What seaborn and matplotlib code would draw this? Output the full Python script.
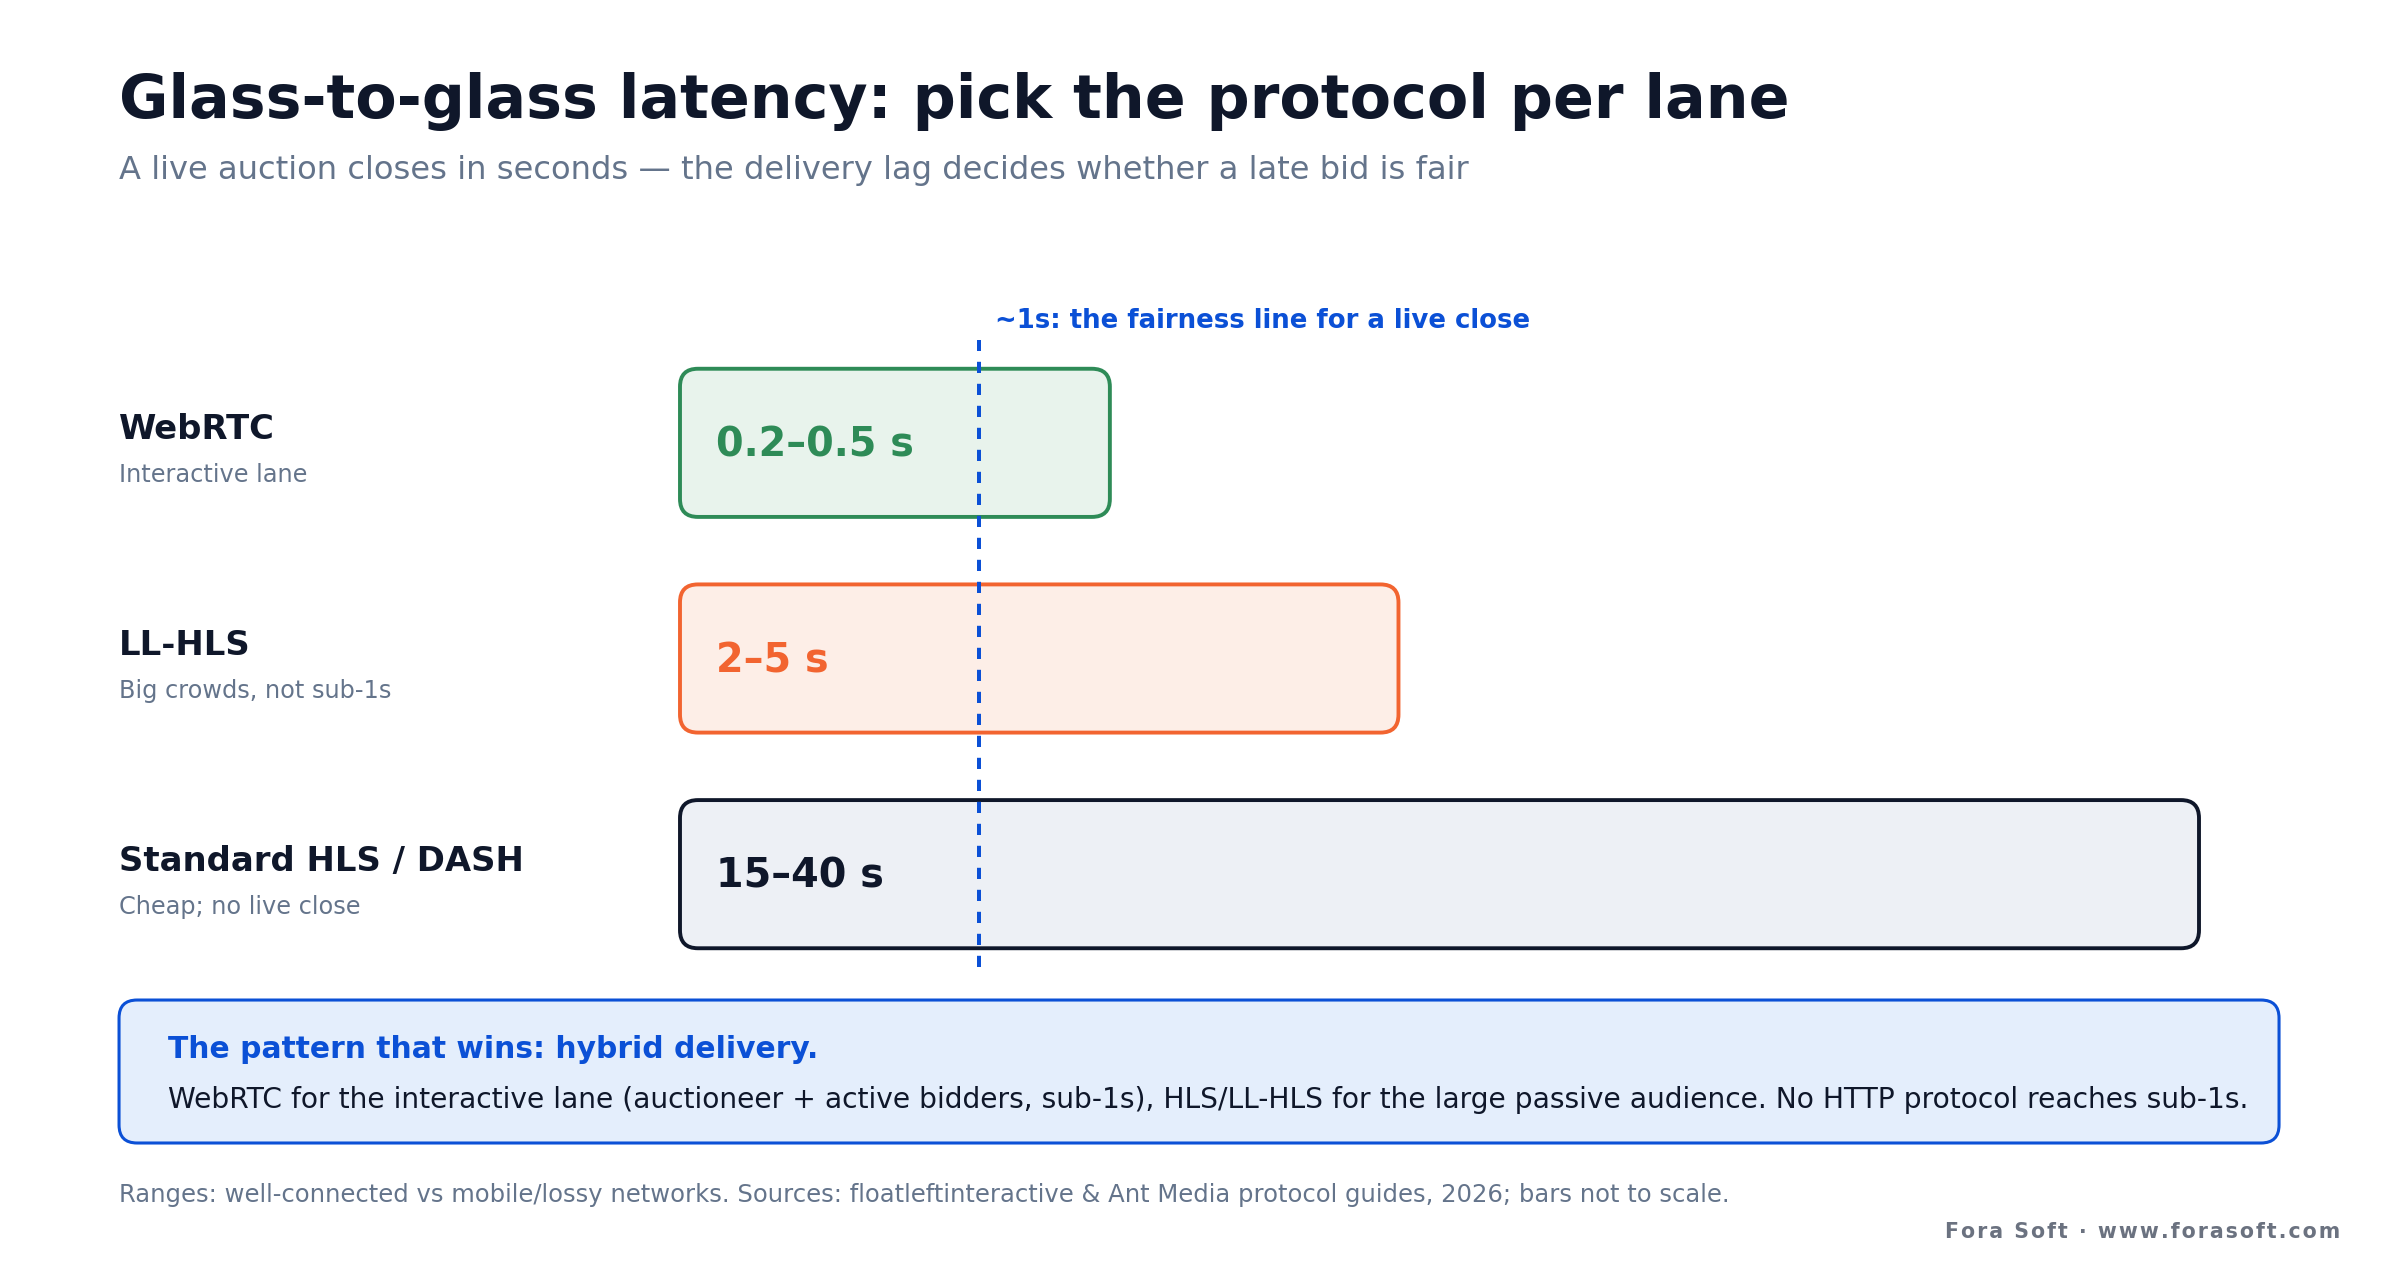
import numpy as np
import pandas as pd
import matplotlib
matplotlib.use("Agg")
import matplotlib.pyplot as plt
from matplotlib.patches import FancyBboxPatch
import seaborn as sns

sns.set_theme(style="white")
plt.rcParams['font.family'] = ['DejaVu Sans']

# lanes and their latency ranges (bars are not to scale: relative display length)
lanes = ["WebRTC", "LL-HLS", "Standard HLS / DASH"]
lane_notes = ["Interactive lane", "Big crowds, not sub-1s", "Cheap; no live close"]
range_labels = ["0.2–0.5 s", "2–5 s", "15–40 s"]
bar_scale = [2.83, 4.73, 10.0]
fair_mark = 1.97

edge_colors = ["#2E8B57", "#F26430", "#0F172A"]
fill_colors = ["#E8F3EC", "#FDEEE7", "#EDF0F5"]
text_colors = ["#2E8B57", "#F26430", "#0F172A"]

DARK = "#0F172A"
GRAY = "#64748B"
BLUE = "#0B50D6"

df = pd.DataFrame({"lane": lanes, "scale": bar_scale})

fig = plt.figure(figsize=(12, 6.4), dpi=200)
ax = fig.add_axes([0.28333, 0.23281, 0.63292, 0.50547])

sns.barplot(data=df, x="scale", y="lane", orient="h", width=0.687, ax=ax)

# swap the plain bars for rounded boxes
bars = list(ax.patches)
for i, p in enumerate(bars):
    x, y, w, h = p.get_x(), p.get_y(), p.get_width(), p.get_height()
    p.remove()
    box = FancyBboxPatch((x, y), w, h,
                         boxstyle="round,pad=0,rounding_size=0.118",
                         mutation_aspect=0.705,
                         facecolor=fill_colors[i], edgecolor=edge_colors[i],
                         linewidth=1.4, clip_on=False, zorder=2)
    ax.add_patch(box)
    ax.annotate(range_labels[i], xy=(x, y + h / 2), xytext=(13, -1),
                textcoords="offset points", va="center", ha="left",
                fontsize=14.3, fontweight="bold", color=text_colors[i], zorder=4)

ax.set_xlim(0, 10)
ax.set_ylim(2.5, -0.5)
ax.axis("off")

# fairness line
ax.axvline(fair_mark, ymin=0.023, ymax=0.992, color=BLUE, lw=1.44,
           dashes=(2.8, 2.7), zorder=3, clip_on=False)
ax.annotate("~1s: the fairness line for a live close", xy=(fair_mark, 1),
            xycoords=("data", "axes fraction"), xytext=(5.8, 5),
            textcoords="offset points", va="center", ha="left",
            fontsize=9.35, fontweight="bold", color=BLUE)

# header
fig.text(0.0496, 0.9078, "Glass-to-glass latency: pick the protocol per lane",
         fontsize=21.7, fontweight="bold", color=DARK, va="baseline")
fig.text(0.0496, 0.8602,
         "A live auction closes in seconds — the delivery lag decides whether a late bid is fair",
         fontsize=11.55, color=GRAY, va="baseline")

# lane labels
label_base = [439, 655, 871]
for i in range(len(lanes)):
    fig.text(0.0496, 1 - label_base[i] / 1280, lanes[i], fontsize=12.2,
             fontweight="bold", color=DARK, va="baseline")
    fig.text(0.0496, 1 - (label_base[i] + 43) / 1280, lane_notes[i],
             fontsize=8.65, color=GRAY, va="baseline")

# callout
callout = FancyBboxPatch((0.0496, 0.10703), 0.9, 0.1117,
                         boxstyle="round,pad=0,rounding_size=0.0075",
                         mutation_aspect=1.875, transform=fig.transFigure,
                         facecolor="#E4EEFC", edgecolor=BLUE, linewidth=1.1)
fig.add_artist(callout)
fig.text(0.07, 0.1797, "The pattern that wins: hybrid delivery.",
         fontsize=10.7, fontweight="bold", color=BLUE, va="center")
fig.text(0.07, 0.1406,
         "WebRTC for the interactive lane (auctioneer + active bidders, sub-1s), "
         "HLS/LL-HLS for the large passive audience. No HTTP protocol reaches sub-1s.",
         fontsize=10.15, color=DARK, va="center")

# footer
fig.text(0.0496, 0.0664,
         "Ranges: well-connected vs mobile/lossy networks. Sources: floatleftinteractive & "
         "Ant Media protocol guides, 2026; bars not to scale.",
         fontsize=8.75, color=GRAY, va="center")
brand = "\u200a".join("Fora Soft · www.forasoft.com")
fig.text(0.975, 0.0375, brand, fontsize=7.4,
         fontweight="bold", color="#6B7280", va="center", ha="right")

fig.savefig("out.png", dpi=200, facecolor="white")
